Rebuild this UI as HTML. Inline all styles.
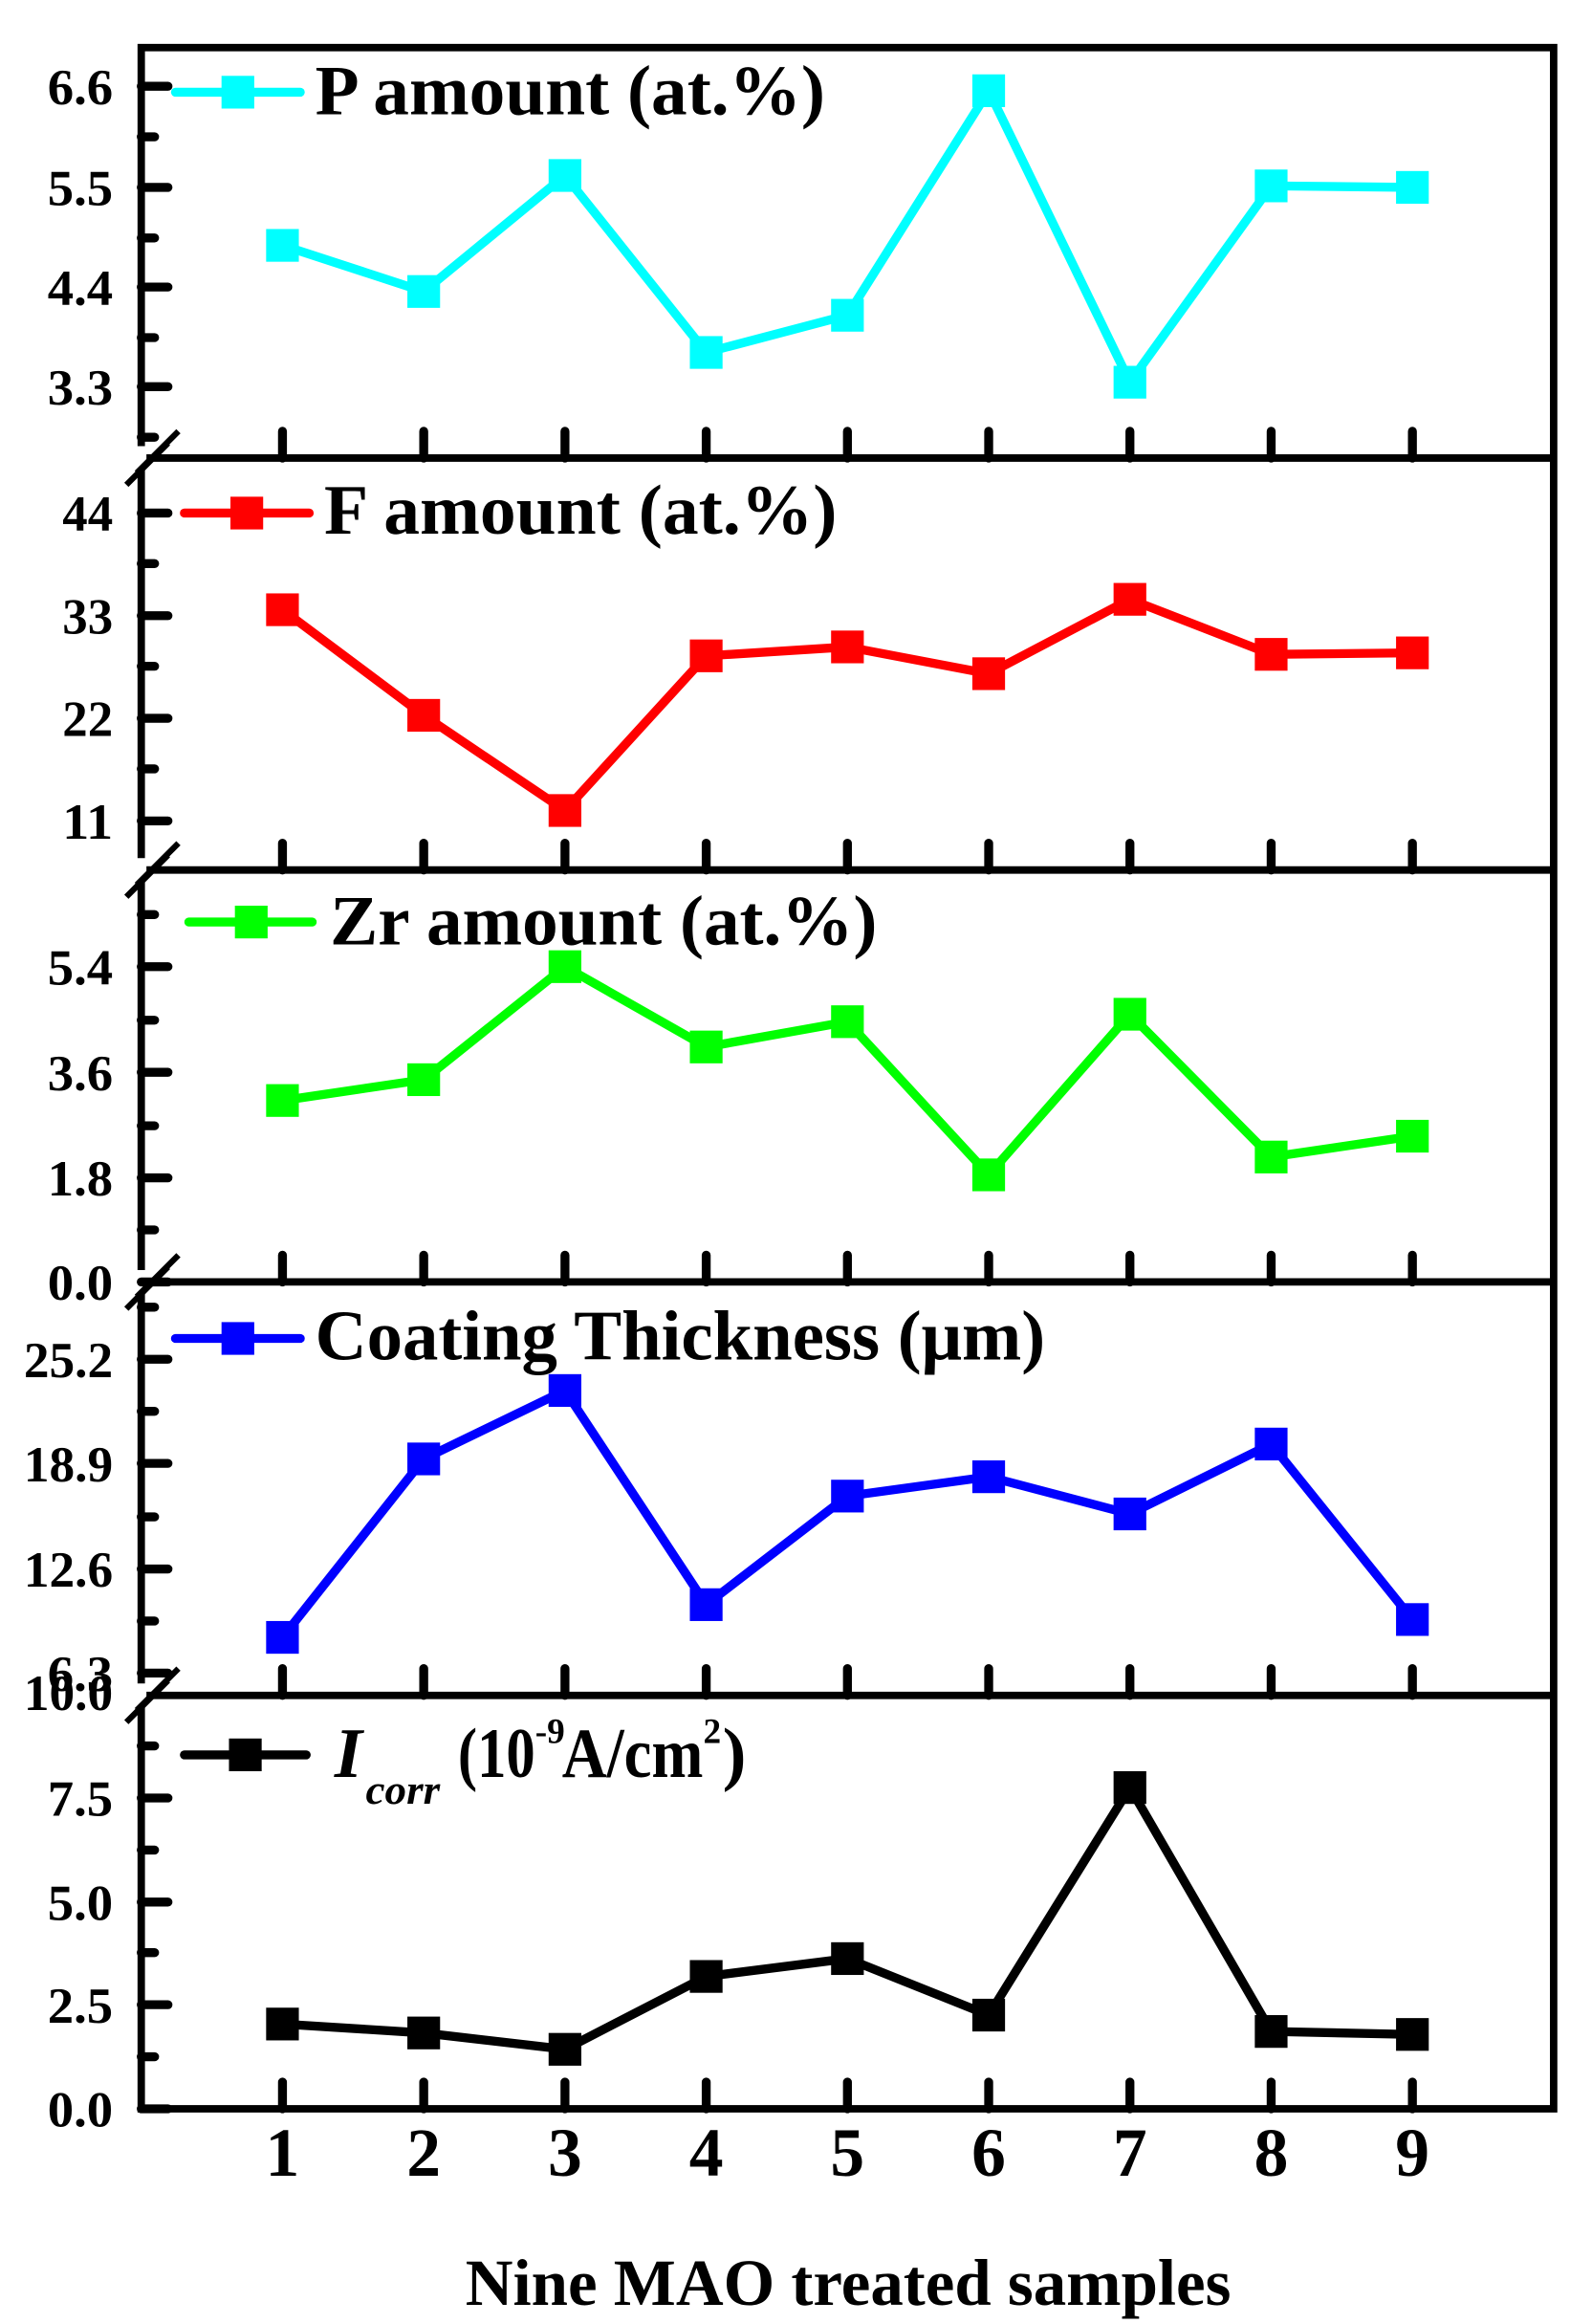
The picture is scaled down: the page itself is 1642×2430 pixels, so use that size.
<!DOCTYPE html>
<html><head><meta charset="utf-8"><style>html,body{margin:0;padding:0;background:#fff}svg{display:block}</style></head>
<body>
<svg width="1642" height="2430" viewBox="0 0 1056 1562.7" preserveAspectRatio="none" xmlns="http://www.w3.org/2000/svg" font-family="'Liberation Serif',serif" font-weight="bold">
<g stroke="#000" stroke-width="5" fill="none">
<rect x="95" y="32" width="950" height="1386"/>
<line x1="95" y1="308" x2="1045" y2="308"/>
<line x1="95" y1="585" x2="1045" y2="585"/>
<line x1="95" y1="862" x2="1045" y2="862"/>
<line x1="95" y1="1140" x2="1045" y2="1140"/>
</g>
<g stroke="#fff" stroke-width="7"><line x1="95" y1="300" x2="95" y2="316"/><line x1="95" y1="577" x2="95" y2="593"/><line x1="95" y1="854" x2="95" y2="870"/><line x1="95" y1="1132" x2="95" y2="1148"/></g>
<g stroke="#000" stroke-width="4">
<line x1="85" y1="326" x2="113" y2="298"/><line x1="92" y1="318" x2="120" y2="290"/>
<line x1="85" y1="603" x2="113" y2="575"/><line x1="92" y1="595" x2="120" y2="567"/>
<line x1="85" y1="880" x2="113" y2="852"/><line x1="92" y1="872" x2="120" y2="844"/>
<line x1="85" y1="1158" x2="113" y2="1130"/><line x1="92" y1="1150" x2="120" y2="1122"/>
</g>
<g stroke="#000" stroke-width="6" stroke-linecap="round">
<path d="M95 58h18M95 126h18M95 193h18M95 260h18M95 345h18M95 414h18M95 483h18M95 552h18M95 650h18M95 721h18M95 792h18M95 862h18M95 914h18M95 984h18M95 1055h18M95 1125h18M95 1209h18M95 1279h18M95 1348h18M95 1418h18"/>
<path d="M95 92h9M95 160h9M95 227h9M95 294h9M95 379h9M95 448h9M95 517h9M95 615h9M95 686h9M95 757h9M95 827h9M95 879h9M95 949h9M95 1020h9M95 1090h9M95 1174h9M95 1244h9M95 1313h9M95 1383h9"/>
</g>
<g stroke="#000" stroke-width="6" stroke-linecap="round">
<path d="M190 308v-18M285 308v-18M380 308v-18M475 308v-18M570 308v-18M665 308v-18M760 308v-18M855 308v-18M950 308v-18"/>
<path d="M190 585v-18M285 585v-18M380 585v-18M475 585v-18M570 585v-18M665 585v-18M760 585v-18M855 585v-18M950 585v-18"/>
<path d="M190 862v-18M285 862v-18M380 862v-18M475 862v-18M570 862v-18M665 862v-18M760 862v-18M855 862v-18M950 862v-18"/>
<path d="M190 1140v-18M285 1140v-18M380 1140v-18M475 1140v-18M570 1140v-18M665 1140v-18M760 1140v-18M855 1140v-18M950 1140v-18"/>
<path d="M190 1418v-18M285 1418v-18M380 1418v-18M475 1418v-18M570 1418v-18M665 1418v-18M760 1418v-18M855 1418v-18M950 1418v-18"/>
</g>
<g font-size="34" text-anchor="end" lengthAdjust="spacingAndGlyphs">
<text x="76" y="70" textLength="44" lengthAdjust="spacingAndGlyphs">6.6</text><text x="76" y="138" textLength="44" lengthAdjust="spacingAndGlyphs">5.5</text><text x="76" y="205" textLength="44" lengthAdjust="spacingAndGlyphs">4.4</text><text x="76" y="272" textLength="44" lengthAdjust="spacingAndGlyphs">3.3</text>
<text x="76" y="357" textLength="34" lengthAdjust="spacingAndGlyphs">44</text><text x="76" y="426" textLength="34" lengthAdjust="spacingAndGlyphs">33</text><text x="76" y="495" textLength="34" lengthAdjust="spacingAndGlyphs">22</text><text x="76" y="564" textLength="34" lengthAdjust="spacingAndGlyphs">11</text>
<text x="76" y="662" textLength="44" lengthAdjust="spacingAndGlyphs">5.4</text><text x="76" y="733" textLength="44" lengthAdjust="spacingAndGlyphs">3.6</text><text x="76" y="804" textLength="44" lengthAdjust="spacingAndGlyphs">1.8</text><text x="76" y="874" textLength="44" lengthAdjust="spacingAndGlyphs">0.0</text>
<text x="76" y="926" textLength="60" lengthAdjust="spacingAndGlyphs">25.2</text><text x="76" y="996" textLength="60" lengthAdjust="spacingAndGlyphs">18.9</text><text x="76" y="1067" textLength="60" lengthAdjust="spacingAndGlyphs">12.6</text><text x="76" y="1137" textLength="44" lengthAdjust="spacingAndGlyphs">6.3</text>
<text x="76" y="1150" textLength="60" lengthAdjust="spacingAndGlyphs">10.0</text>
<text x="76" y="1221" textLength="44" lengthAdjust="spacingAndGlyphs">7.5</text><text x="76" y="1291" textLength="44" lengthAdjust="spacingAndGlyphs">5.0</text><text x="76" y="1360" textLength="44" lengthAdjust="spacingAndGlyphs">2.5</text><text x="76" y="1430" textLength="44" lengthAdjust="spacingAndGlyphs">0.0</text>
</g>
<g font-size="46" text-anchor="middle">
<text x="190" y="1463">1</text><text x="285" y="1463">2</text><text x="380" y="1463">3</text><text x="475" y="1463">4</text><text x="570" y="1463">5</text><text x="665" y="1463">6</text><text x="760" y="1463">7</text><text x="855" y="1463">8</text><text x="950" y="1463">9</text>
</g>
<text x="313" y="1550" font-size="44" textLength="515" lengthAdjust="spacingAndGlyphs">Nine MAO treated samples</text>
<g stroke-width="6" stroke-linejoin="round" stroke-linecap="round" fill="none">
<polyline stroke="#00ffff" points="190,165 285,196 380,118 475,237 570,212 665,61 760,257 855,125 950,126"/>
<polyline stroke="#ff0000" points="190,410 285,481 380,545 475,441 570,435 665,453 760,403 855,440 950,439"/>
<polyline stroke="#00ff00" points="190,740 285,726 380,650 475,704 570,687 665,790 760,682 855,778 950,764"/>
<polyline stroke="#0000ff" points="190,1101 285,981 380,935 475,1079 570,1006 665,993 760,1018 855,971 950,1089"/>
<polyline stroke="#000" points="190,1361 285,1367 380,1378 475,1329 570,1317 665,1355 760,1202 855,1366 950,1368"/>
<line stroke="#00ffff" x1="118" y1="62" x2="202" y2="62"/>
<line stroke="#ff0000" x1="124" y1="345" x2="208" y2="345"/>
<line stroke="#00ff00" x1="127" y1="620" x2="210" y2="620"/>
<line stroke="#0000ff" x1="118" y1="900" x2="202" y2="900"/>
<line stroke="#000" x1="124" y1="1180" x2="206" y2="1180"/>
</g>
<g fill="#00ffff"><rect x="149" y="51" width="22" height="22"/><rect x="179" y="154" width="22" height="22"/><rect x="274" y="185" width="22" height="22"/><rect x="369" y="107" width="22" height="22"/><rect x="464" y="226" width="22" height="22"/><rect x="559" y="201" width="22" height="22"/><rect x="654" y="50" width="22" height="22"/><rect x="749" y="246" width="22" height="22"/><rect x="844" y="114" width="22" height="22"/><rect x="939" y="115" width="22" height="22"/></g>
<g fill="#ff0000"><rect x="155" y="334" width="22" height="22"/><rect x="179" y="399" width="22" height="22"/><rect x="274" y="470" width="22" height="22"/><rect x="369" y="534" width="22" height="22"/><rect x="464" y="430" width="22" height="22"/><rect x="559" y="424" width="22" height="22"/><rect x="654" y="442" width="22" height="22"/><rect x="749" y="392" width="22" height="22"/><rect x="844" y="429" width="22" height="22"/><rect x="939" y="428" width="22" height="22"/></g>
<g fill="#00ff00"><rect x="158" y="609" width="22" height="22"/><rect x="179" y="729" width="22" height="22"/><rect x="274" y="715" width="22" height="22"/><rect x="369" y="639" width="22" height="22"/><rect x="464" y="693" width="22" height="22"/><rect x="559" y="676" width="22" height="22"/><rect x="654" y="779" width="22" height="22"/><rect x="749" y="671" width="22" height="22"/><rect x="844" y="767" width="22" height="22"/><rect x="939" y="753" width="22" height="22"/></g>
<g fill="#0000ff"><rect x="149" y="889" width="22" height="22"/><rect x="179" y="1090" width="22" height="22"/><rect x="274" y="970" width="22" height="22"/><rect x="369" y="924" width="22" height="22"/><rect x="464" y="1068" width="22" height="22"/><rect x="559" y="995" width="22" height="22"/><rect x="654" y="982" width="22" height="22"/><rect x="749" y="1007" width="22" height="22"/><rect x="844" y="960" width="22" height="22"/><rect x="939" y="1078" width="22" height="22"/></g>
<g fill="#000"><rect x="154" y="1169" width="22" height="22"/><rect x="179" y="1350" width="22" height="22"/><rect x="274" y="1356" width="22" height="22"/><rect x="369" y="1367" width="22" height="22"/><rect x="464" y="1318" width="22" height="22"/><rect x="559" y="1306" width="22" height="22"/><rect x="654" y="1344" width="22" height="22"/><rect x="749" y="1191" width="22" height="22"/><rect x="844" y="1355" width="22" height="22"/><rect x="939" y="1357" width="22" height="22"/></g>
<g font-size="48">
<text x="212" y="77" textLength="343" lengthAdjust="spacingAndGlyphs">P amount (at.%)</text>
<text x="218" y="359" textLength="345" lengthAdjust="spacingAndGlyphs">F amount (at.%)</text>
<text x="222" y="635" textLength="368" lengthAdjust="spacingAndGlyphs">Zr amount (at.%)</text>
<text x="212" y="914" textLength="491" lengthAdjust="spacingAndGlyphs">Coating Thickness (μm)</text>
<text x="225" y="1195" font-style="italic">I</text>
<text x="246" y="1213" font-size="28" font-style="italic" textLength="50" lengthAdjust="spacingAndGlyphs">corr</text>
<text x="308" y="1195" textLength="52" lengthAdjust="spacingAndGlyphs">(10</text>
<text x="360" y="1172" font-size="24">-9</text>
<text x="378" y="1195" textLength="95" lengthAdjust="spacingAndGlyphs">A/cm</text>
<text x="473" y="1172" font-size="24">2</text>
<text x="486" y="1195">)</text>
</g>
</svg>
</body></html>
